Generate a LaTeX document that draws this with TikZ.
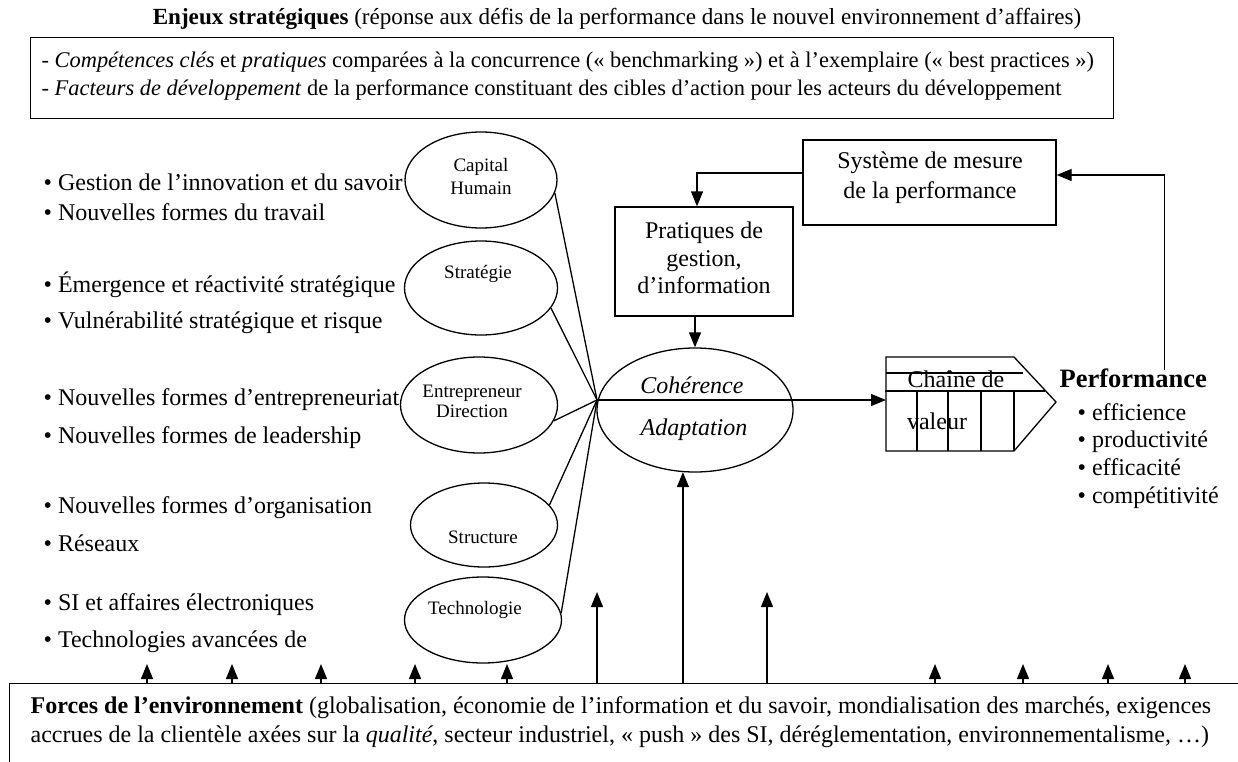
\documentclass[tikz,border=0pt]{standalone}
\usepackage{fontspec}
\setmainfont{Liberation Serif}
\usetikzlibrary{shapes.geometric,arrows.meta}
\begin{document}
\begin{tikzpicture}[x=1pt,y=-1pt,line width=1.3pt,
  body/.style={inner sep=0pt, font=\fontsize{24}{28}\selectfont, text height=17pt, text depth=6pt},
  multi/.style={inner sep=0pt, font=\fontsize{24}{27.5}\selectfont, align=center},
  small/.style={inner sep=0pt, font=\fontsize{19}{23}\selectfont, align=center},
  oval/.style={ellipse, draw, inner sep=0pt},
  box/.style={draw, inner sep=0pt},
  tip/.style={-{Triangle[length=15pt,width=12pt]}},
]
\useasboundingbox (0,0) rectangle (1238,762);

% title
\node[body, font=\fontsize{23.1}{28}\selectfont] (title) at (617,19) {\textbf{Enjeux stratégiques} (réponse aux défis de la performance dans le nouvel environnement d'affaires)};

% top box
\node[box, anchor=north west, minimum width=1083pt, minimum height=81pt] (enjeux) at (30,37) {};
\node[body, font=\fontsize{22.4}{28}\selectfont, anchor=west] (e1) at (41,62) {- \textit{Compétences clés} et \textit{pratiques} comparées à la concurrence (« benchmarking ») et à l’exemplaire (« best practices »)};
\node[body, font=\fontsize{22.4}{28}\selectfont, anchor=west] (e2) at (41,90) {- \textit{Facteurs de développement} de la performance constituant des cibles d’action pour les acteurs du développement};

% left bullets
\node[body, anchor=west] (b1) at (43,185) {• Gestion de l’innovation et du savoir};
\node[body, anchor=west] (b2) at (43,215) {• Nouvelles formes du travail};
\node[body, anchor=west] (b3) at (43,287) {• Émergence et réactivité stratégique};
\node[body, anchor=west] (b4) at (43,323) {• Vulnérabilité stratégique et risque};
\node[body, anchor=west] (b5) at (43,400) {• Nouvelles formes d’entrepreneuriat};
\node[body, anchor=west] (b6) at (43,438) {• Nouvelles formes de leadership};
\node[body, anchor=west] (b7) at (43,508) {• Nouvelles formes d'organisation};
\node[body, anchor=west] (b8) at (43,546) {• Réseaux};
\node[body, anchor=west] (b9) at (43,605) {• SI et affaires électroniques};
\node[body, anchor=west] (b10) at (43,642) {• Technologies avancées de};

% ellipses
\node[oval, minimum width=152pt, minimum height=96pt] (cap) at (481,180) {};
\node[small] (capt) at (481,177) {Capital\\Humain};
\node[oval, minimum width=153pt, minimum height=94pt] (strat) at (481,288) {};
\node[small] (stratt) at (478,274) {Stratégie};
\node[oval, minimum width=157pt, minimum height=96pt] (entre) at (479,405) {};
\node[small, font=\fontsize{19}{20}\selectfont] (entret) at (472,401) {Entrepreneur\\Direction};
\node[oval, minimum width=147pt, minimum height=84pt] (struct) at (484,525) {};
\node[small] (structt) at (483,537) {Structure};
\node[oval, minimum width=157pt, minimum height=86pt] (tech) at (483,620) {};
\node[small] (techt) at (475,610) {Technologie};

% central ellipse
\node[oval, minimum width=196pt, minimum height=124pt] (coh) at (695,410) {};
\node[body, font=\itshape\fontsize{24}{28}\selectfont] (coht) at (692,388) {Cohérence};
\node[body, font=\itshape\fontsize{24}{28}\selectfont] (adat) at (694,430) {Adaptation};
\coordinate (conv) at (597,400);

\draw (cap.-10) -- (conv);
\draw (strat.-16) -- (conv);
\draw (entre.-12) -- (conv);
\draw (struct.17) -- (conv);
\draw (tech.5) -- (conv);

% pratiques
\node[box, minimum width=178pt, minimum height=109pt] (prat) at (704,261.5) {};
\node[multi] (pratt) at (704,258) {Pratiques de\\gestion,\\d'information};

% systeme
\node[box, minimum width=253pt, minimum height=85pt] (sys) at (929.5,182.5) {};
\node[multi, font=\fontsize{24}{30}\selectfont] (syst) at (930,178) {Système de mesure\\de la performance};

\draw[tip] ([yshift=9.5pt]sys.west) -| ([xshift=-7pt]prat.north);
\draw[tip] (prat.south -| coh.north) -- (coh.north);

% chaine de valeur
\coordinate (chainL) at (886,400);
\draw[tip] (conv) -- (chainL);
\draw[line join=miter] (886,357) -- (1014,357) -- (1056,402) -- (1014,451) -- (886,451) -- cycle;
\draw (886,373) -- (1023,373);
\draw (885,391) -- (1045,391);
\foreach \x in {917,948,981,1014} \draw (\x,391) -- (\x,451);
\node[body] (chaine) at (956,382) {Chaîne de};
\node[body] (valeur) at (937,424) {valeur};

% performance
\node[body, font=\bfseries\fontsize{26.5}{30}\selectfont, anchor=west] (perf) at (1059,382) {Performance};
\node[body, anchor=west] (p1) at (1077,415) {• efficience};
\node[body, anchor=west] (p2) at (1077,442) {• productivité};
\node[body, anchor=west] (p3) at (1077,470) {• efficacité};
\node[body, anchor=west] (p4) at (1077,498) {• compétitivité};
\draw[tip] ([xshift=31.5pt]perf.north) |- ([yshift=7.5pt]sys.east);

% forces
\node[box, anchor=north west, minimum width=1260pt, minimum height=110pt] (forces) at (9,683) {};
\node[body, anchor=west] (f1) at (30,708) {\textbf{Forces de l’environnement} (globalisation, économie de l’information et du savoir, mondialisation des marchés, exigences};
\node[body, anchor=west] (f2) at (30,737) {accrues de la clientèle axées sur la \textit{qualité}, secteur industriel, « push » des SI, déréglementation, environnementalisme, …)};

\foreach \x in {147,232,321,415,507,935,1023,1108,1185}
  \draw[tip] ([xshift={\x pt-9pt}]forces.north west) -- ++(0,-19);
\draw[tip] ([xshift=588pt]forces.north west) -- ++(0,-91);
\draw[tip] ([xshift=758pt]forces.north west) -- ++(0,-91);
\draw[tip] (forces.north -| coh.-101) -- (coh.-101);
\end{tikzpicture}
\end{document}
